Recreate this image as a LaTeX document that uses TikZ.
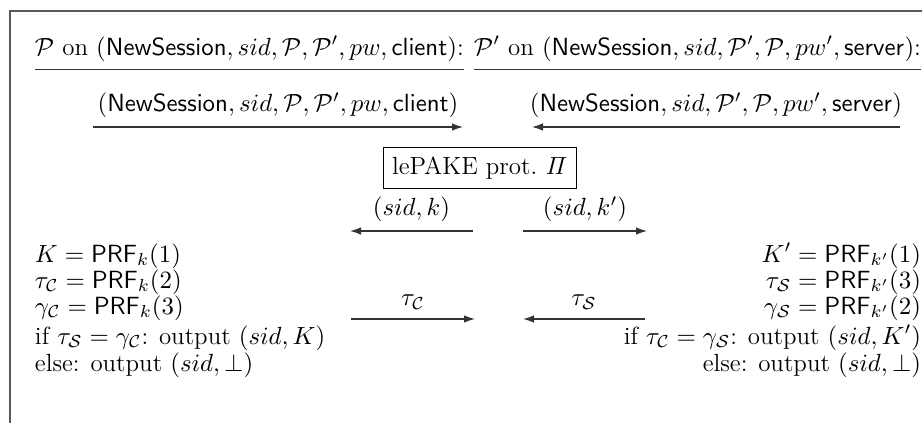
\RequirePackage{fix-cm}
\documentclass[tikz,border=0pt]{standalone}
\usepackage{amsmath,amssymb}
\usetikzlibrary{arrows.meta}
\begin{document}
% one unit = one pixel of a 922 x 423 page, y running downwards
\begin{tikzpicture}[x=0.01598cm,y=-0.01598cm,
  every node/.style={font=\fontsize{11.3}{13.6}\selectfont},
  txt/.style={inner sep=0pt,outer sep=0pt},
  lbl/.style={above,inner sep=4pt},
  msg/.style={-{Latex[length=5pt,width=3.4pt]},line width=0.55pt,draw=black!80},
  uline/.style={line width=0.55pt,draw=black!80},
  frame/.style={line width=0.6pt,draw=black!65},
  protbox/.style={draw,line width=0.5pt,inner xsep=4pt,inner ysep=4pt}]
\useasboundingbox (0,0) rectangle (922,423);
\draw[frame] (922,11) -- (10,11) -- (10,423);

% party headers
\node[txt,anchor=base west] (hl) at (35,55)
  {$\mathcal{P}$ on $(\mathsf{NewSession},sid,\mathcal{P},\mathcal{P}',pw,\mathsf{client})$:};
\node[txt,anchor=base east] (hr) at (921,55)
  {$\mathcal{P}'$ on $(\mathsf{NewSession},sid,\mathcal{P}',\mathcal{P},pw',\mathsf{server})$:};
\draw[uline] ([yshift=-3.8pt]hl.south west) -- ([yshift=-3.8pt]hl.south east);
\draw[uline] ([yshift=-3.8pt]hr.south west) -- ([yshift=-3.8pt]hr.south east);

% inputs handed to the protocol
\coordinate (c1a) at (93,127);  \coordinate (c1b) at (463,127);
\coordinate (s1a) at (900,127); \coordinate (s1b) at (532,127);
\draw[msg] (c1a) -- node[lbl]
  {$(\mathsf{NewSession},sid,\mathcal{P},\mathcal{P}',pw,\mathsf{client})$} (c1b);
\draw[msg] (s1a) -- node[lbl]
  {$(\mathsf{NewSession},sid,\mathcal{P}',\mathcal{P},pw',\mathsf{server})$} (s1b);

% the underlying protocol
\node[protbox] (prot) at (480,168) {lePAKE prot.\ $\mathit{\Pi}$};

% keys returned by the protocol
\coordinate (k1a) at (473,231); \coordinate (k1b) at (350,231);
\coordinate (k2a) at (523,231); \coordinate (k2b) at (647,231);
\draw[msg] (k1a) -- node[lbl] {$(sid,k)$} (k1b);
\draw[msg] (k2a) -- node[lbl] {$(sid,k')$} (k2b);

% client side computations
\node[txt,anchor=base west] (l1) at (35,262) {$K=\mathsf{PRF}_k(1)$};
\node[txt,anchor=base west] (l2) at (35,288) {$\tau_{\mathcal{C}}=\mathsf{PRF}_k(2)$};
\node[txt,anchor=base west] (l3) at (35,314) {$\gamma_{\mathcal{C}}=\mathsf{PRF}_k(3)$};
\node[txt,anchor=base west] (l4) at (35,344) {if $\tau_{\mathcal{S}}=\gamma_{\mathcal{C}}$: output $(sid,K)$};
\node[txt,anchor=base west] (l5) at (35,371) {else: output $(sid,\bot)$};

% server side computations
\node[txt,anchor=base east] (r1) at (921,262) {$K'=\mathsf{PRF}_{k'}(1)$};
\node[txt,anchor=base east] (r2) at (921,288) {$\tau_{\mathcal{S}}=\mathsf{PRF}_{k'}(3)$};
\node[txt,anchor=base east] (r3) at (921,314) {$\gamma_{\mathcal{S}}=\mathsf{PRF}_{k'}(2)$};
\node[txt,anchor=base east] (r4) at (921,344) {if $\tau_{\mathcal{C}}=\gamma_{\mathcal{S}}$: output $(sid,K')$};
\node[txt,anchor=base east] (r5) at (921,371) {else: output $(sid,\bot)$};

% exchanged tags
\coordinate (t1a) at (351,319); \coordinate (t1b) at (475,319);
\coordinate (t2a) at (645,319); \coordinate (t2b) at (523,319);
\draw[msg] (t1a) -- node[lbl] {$\tau_{\mathcal{C}}$} (t1b);
\draw[msg] (t2a) -- node[lbl] {$\tau_{\mathcal{S}}$} (t2b);
\end{tikzpicture}
\end{document}
